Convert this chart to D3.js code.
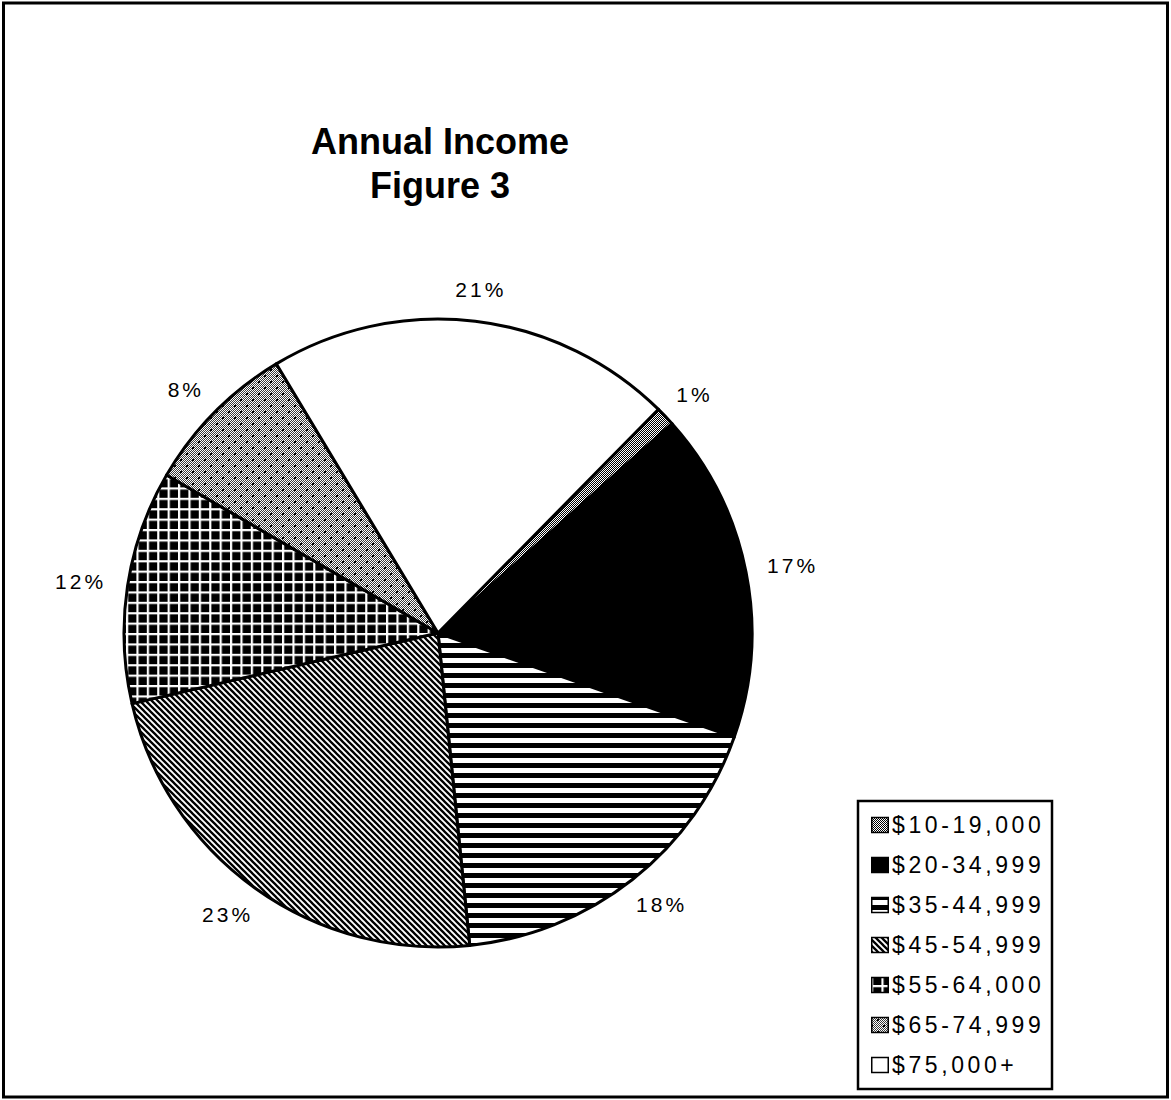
<!DOCTYPE html>
<html>
<head>
<meta charset="utf-8">
<script src="https://cdn.jsdelivr.net/npm/d3@7"></script>
<style>
	html, body { margin: 0; padding: 0; background: #fff; }
	svg { display: block; }
	text { font-family: "Liberation Sans", Arial, Helvetica, sans-serif; fill: #000; }
</style>
</head>
<body>
<svg id="chart"></svg>
<script>
const categories = ['$10-19,000', '$20-34,999', '$35-44,999', '$45-54,999', '$55-64,000', '$65-74,999', '$75,000+'];
const values = [1, 17, 18, 23, 12, 8, 21];
const patternIds = ['dither', 'solid', 'hstripe', 'diag', 'grid', 'dots', 'white'];
const titleLines = ['Annual Income', 'Figure 3'];

const width = 1171;
const height = 1100;
const cx = 438;
const cy = 633;
const radius = 314;
const startDeg = 44.6;
const labelGap = 22;

const svg = d3.select('#chart')
	.attr('width', width)
	.attr('height', height);

// fill patterns, close to the old b/w print
const defs = svg.append('defs');

const dither = defs.append('pattern').attr('id', 'dither')
	.attr('width', 2).attr('height', 2).attr('patternUnits', 'userSpaceOnUse');
dither.append('rect').attr('width', 2).attr('height', 2).attr('fill', '#fff');
dither.append('rect').attr('width', 1).attr('height', 1).attr('fill', '#000');
dither.append('rect').attr('x', 1).attr('y', 1).attr('width', 1).attr('height', 1).attr('fill', '#000');

const solid = defs.append('pattern').attr('id', 'solid')
	.attr('width', 4).attr('height', 4).attr('patternUnits', 'userSpaceOnUse');
solid.append('rect').attr('width', 4).attr('height', 4).attr('fill', '#000');

const hstripe = defs.append('pattern').attr('id', 'hstripe')
	.attr('width', 10).attr('height', 10).attr('patternUnits', 'userSpaceOnUse');
hstripe.append('rect').attr('width', 10).attr('height', 10).attr('fill', '#fff');
hstripe.append('rect').attr('width', 10).attr('height', 5).attr('fill', '#000');

const diag = defs.append('pattern').attr('id', 'diag')
	.attr('width', 6).attr('height', 6).attr('patternUnits', 'userSpaceOnUse');
diag.append('rect').attr('width', 6).attr('height', 6).attr('fill', '#fff');
diag.append('path')
	.attr('d', 'M-1,-1 L7,7 M-1,5 L1,7 M5,-1 L7,1')
	.attr('stroke', '#000')
	.attr('stroke-width', 2.3);

const grid = defs.append('pattern').attr('id', 'grid')
	.attr('width', 10.4).attr('height', 10.4).attr('patternUnits', 'userSpaceOnUse');
grid.append('rect').attr('width', 10.4).attr('height', 10.4).attr('fill', '#fff');
grid.append('rect').attr('x', 2.2).attr('y', 2.2).attr('width', 8.2).attr('height', 8.2).attr('fill', '#000');

const dots = defs.append('pattern').attr('id', 'dots')
	.attr('width', 12).attr('height', 12).attr('patternUnits', 'userSpaceOnUse');
dots.append('rect').attr('width', 12).attr('height', 12).attr('fill', '#fff');
for (let i = 0; i < 12; i++) {
	for (let j = 0; j < 12; j++) {
		if ((i + j) % 2 === 0) {
			dots.append('rect').attr('x', i).attr('y', j).attr('width', 1).attr('height', 1).attr('fill', '#3a3a3a');
		}
	}
}
dots.append('rect').attr('x', 0).attr('y', 0).attr('width', 2).attr('height', 2).attr('fill', '#000');
dots.append('rect').attr('x', 6).attr('y', 6).attr('width', 2).attr('height', 2).attr('fill', '#000');

const white = defs.append('pattern').attr('id', 'white')
	.attr('width', 4).attr('height', 4).attr('patternUnits', 'userSpaceOnUse');
white.append('rect').attr('width', 4).attr('height', 4).attr('fill', '#fff');

// outer frame
svg.append('rect')
	.attr('x', 3.5).attr('y', 3)
	.attr('width', 1164).attr('height', 1094)
	.attr('fill', 'none')
	.attr('stroke', '#000')
	.attr('stroke-width', 3);

// title
svg.append('g')
	.selectAll('text')
	.data(titleLines)
	.join('text')
		.attr('x', 440)
		.attr('y', (d, i) => 154 + i * 44)
		.attr('text-anchor', 'middle')
		.style('font-size', '36px')
		.style('font-weight', 'bold')
		.text(d => d);

// pie
const a0 = startDeg * Math.PI / 180;
const pie = d3.pie()
	.sort(null)
	.startAngle(a0)
	.endAngle(a0 + 2 * Math.PI);

const arcs = pie(values);
const arc = d3.arc().innerRadius(0).outerRadius(radius);

const g = svg.append('g')
	.attr('transform', `translate(${ cx }, ${ cy })`);

g.selectAll('path')
	.data(arcs)
	.join('path')
		.attr('d', arc)
		.attr('fill', (d, i) => `url(#${ patternIds[i] })`)
		.attr('stroke', '#000')
		.attr('stroke-width', 3)
		.attr('stroke-linejoin', 'round');

// labels sit just outside the rim, box pushed outward along mid angle
const labels = g.selectAll('text')
	.data(arcs)
	.join('text')
		.attr('text-anchor', 'middle')
		.attr('dy', '0.35em')
		.style('font-size', '21px')
		.style('letter-spacing', '3px')
		.text(d => `${ d.data }%`);

labels.attr('transform', function (d) {
	const a = (d.startAngle + d.endAngle) / 2;
	const s = Math.sin(a);
	const c = -Math.cos(a);
	const w = this.getComputedTextLength();
	const h = 20;
	const r = radius + labelGap;
	return `translate(${ s * (r + w / 2) }, ${ c * (r + h / 2) })`;
});

// legend
const legend = svg.append('g');
legend.append('rect')
	.attr('x', 858).attr('y', 801)
	.attr('width', 194).attr('height', 288)
	.attr('fill', '#fff')
	.attr('stroke', '#000')
	.attr('stroke-width', 2.5);

const rows = legend.selectAll('g.row')
	.data(categories)
	.join('g')
		.attr('class', 'row')
		.attr('transform', (d, i) => `translate(871, ${ 825 + i * 40 })`);

rows.append('rect')
	.attr('x', 0.75).attr('y', -7.5)
	.attr('width', 16.5).attr('height', 15)
	.attr('fill', (d, i) => `url(#${ patternIds[i] })`)
	.attr('stroke', '#000')
	.attr('stroke-width', 1.5);

rows.append('text')
	.attr('x', 21)
	.attr('dy', '0.36em')
	.style('font-size', '23px')
	.style('letter-spacing', '3.6px')
	.text(d => d);
</script>
</body>
</html>
